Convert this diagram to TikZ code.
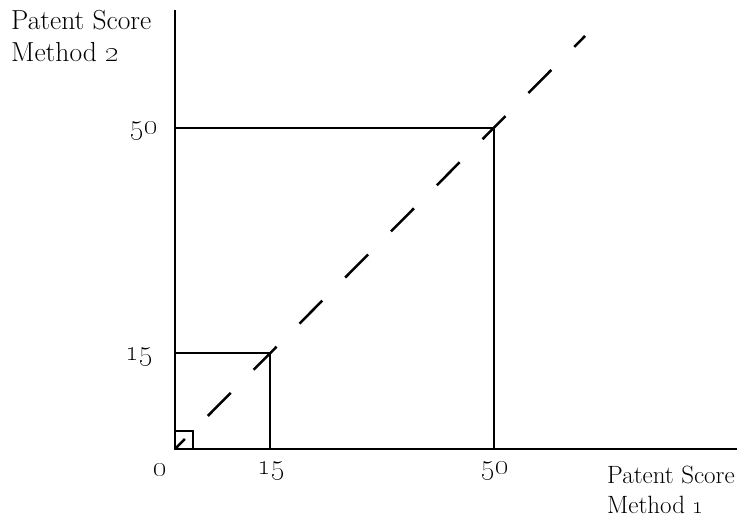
\documentclass[tikz,border=0pt]{standalone}
\begin{document}
\begin{tikzpicture}[x=1pt,y=-1pt,
  axis/.style={line width=2.6pt},
  box/.style={line width=2.5pt},
  diag/.style={line width=2.5pt,dash pattern=on 32.5pt off 32.5pt,dash phase=18.4pt},
  lbl/.style={inner sep=0pt,align=left},
  num/.style={font=\fontsize{30}{32}\selectfont,inner sep=0pt}]
\useasboundingbox (0,0) rectangle (739,518);
\coordinate (O) at (175,449);
\coordinate (ytop) at (175,10);
\coordinate (xend) at (737,449);
\coordinate (dend) at (585,36);
\draw[axis] (ytop) -- (O) -- (xend);
\draw[box] (175,128) -| (494,449);
\draw[box] (175,353) -| (270,449);
\draw[box] (175,431) -| (193,449);
\draw[diag] (O) -- (dend);
\node[lbl,anchor=north west,font=\fontsize{27.5}{32}\selectfont] (ylab) at (11,10) {Patent Score\\Method \oldstylenums{2}};
\node[lbl,anchor=north west,font=\fontsize{25}{30}\selectfont] (xlab) at (607,466) {Patent Score\\Method \oldstylenums{1}};
\node[num,anchor=east] (y50) at (158,131) {\oldstylenums{50}};
\node[num,anchor=east] (y15) at (153,357) {\oldstylenums{15}};
\node[num] (x0) at (160,470) {\oldstylenums{0}};
\node[num] (x15) at (271,471) {\oldstylenums{15}};
\node[num] (x50) at (495,471) {\oldstylenums{50}};
\end{tikzpicture}
\end{document}
